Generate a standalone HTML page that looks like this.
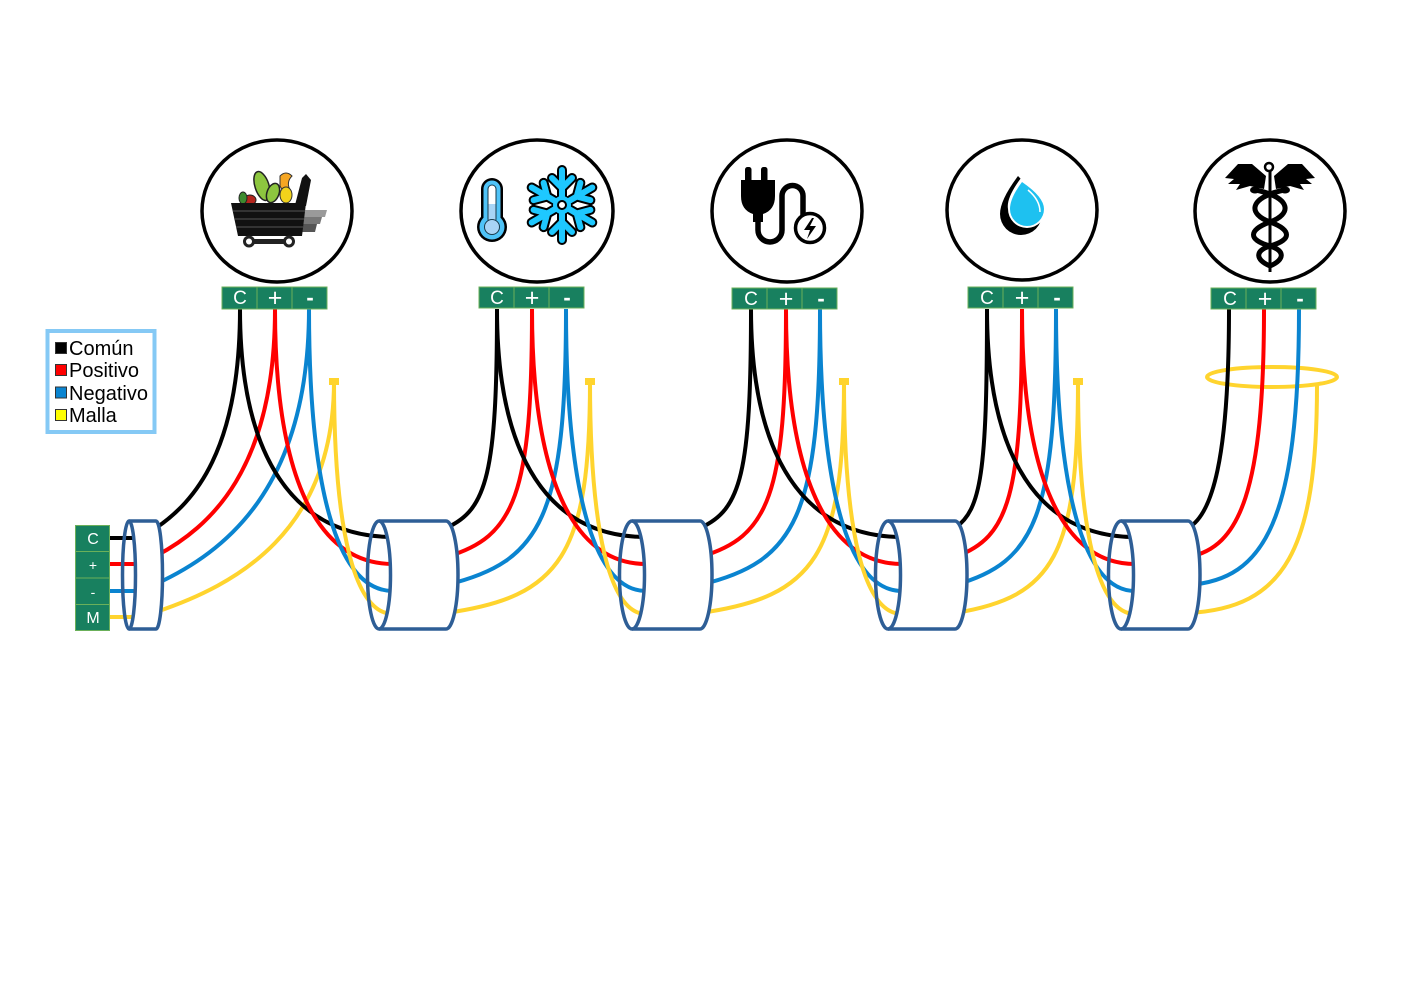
<!DOCTYPE html>
<html><head><meta charset="utf-8"><style>
html,body{margin:0;padding:0;background:#fff;}
svg{display:block;}
text{font-family:"Liberation Sans",Arial,sans-serif;}
</style></head><body>
<svg width="1403" height="992" viewBox="0 0 1403 992" xmlns="http://www.w3.org/2000/svg">
<rect width="1403" height="992" fill="#fff"/>

<!-- Device circles -->
<g fill="#fff" stroke="#000" stroke-width="3.5">
<ellipse cx="277" cy="211" rx="75" ry="71"/>
<ellipse cx="537" cy="211" rx="76" ry="71"/>
<ellipse cx="787" cy="211" rx="75" ry="71"/>
<ellipse cx="1022" cy="210" rx="75" ry="70"/>
<ellipse cx="1270" cy="211" rx="75" ry="71"/>
</g>

<!-- Icon 1: cart with vegetables -->
<g>
<ellipse cx="250" cy="200" rx="6" ry="5" fill="#b3261e" stroke="#222" stroke-width="1"/>
<ellipse cx="243" cy="198" rx="4" ry="6" fill="#3d8b2f" stroke="#222" stroke-width="1"/>
<ellipse cx="262" cy="186" rx="7" ry="15" transform="rotate(-18 262 186)" fill="#8dc63f" stroke="#222" stroke-width="1.5"/>
<ellipse cx="273" cy="193" rx="6" ry="10" transform="rotate(20 273 193)" fill="#8dc63f" stroke="#222" stroke-width="1.5"/>
<path d="M280,176 Q286,170 292,176 Q286,182 290,190 Q284,194 280,186 Z" fill="#f5a623" stroke="#333" stroke-width="1"/>
<ellipse cx="286" cy="195" rx="6" ry="8" fill="#f2d31b" stroke="#333" stroke-width="1"/>
<path d="M295,205 L302,178 L306,174 L311,180 L306,206 Z" fill="#111"/>
<polygon points="303,210 327,210 325,217 303,217" fill="#9a9a9a"/>
<polygon points="302,217 322,217 320,224 302,224" fill="#777"/>
<polygon points="301,224 317,224 315,232 301,232" fill="#555"/>
<polygon points="231,203 306,203 302,236 238,236" fill="#111"/>
<line x1="233" y1="211" x2="305" y2="211" stroke="#555" stroke-width="1"/>
<line x1="235" y1="219" x2="304" y2="219" stroke="#555" stroke-width="1"/>
<line x1="236" y1="227" x2="303" y2="227" stroke="#555" stroke-width="1"/>
<rect x="249" y="239" width="41" height="5" fill="#222"/>
<circle cx="249" cy="241.5" r="4.5" fill="#fff" stroke="#222" stroke-width="3"/>
<circle cx="289" cy="241.5" r="4.5" fill="#fff" stroke="#222" stroke-width="3"/>
</g>

<!-- Icon 2: thermometer + snowflake -->
<g>
<rect x="481" y="178" width="22" height="52" rx="11" fill="#000"/>
<circle cx="492" cy="227" r="15" fill="#000"/>
<rect x="483.5" y="180.5" width="17" height="48" rx="8.5" fill="#4fc3f7"/>
<circle cx="492" cy="227" r="12.5" fill="#4fc3f7"/>
<rect x="488" y="185" width="8" height="38" rx="4" fill="#fff" stroke="#1a3a4a" stroke-width="1"/>
<rect x="488.5" y="204" width="7" height="20" fill="#a8d4f5"/>
<circle cx="492" cy="227" r="7.5" fill="#a8d4f5" stroke="#1a3a4a" stroke-width="1"/>
</g>
<g id="flake">
<g stroke="#000" stroke-width="10" stroke-linecap="round" fill="none">
<g id="armb"><line x1="562" y1="205" x2="562" y2="170"/><polyline points="552,178 562,188 572,178"/></g>
<use href="#armb" transform="rotate(60 562 205)"/>
<use href="#armb" transform="rotate(120 562 205)"/>
<use href="#armb" transform="rotate(180 562 205)"/>
<use href="#armb" transform="rotate(240 562 205)"/>
<use href="#armb" transform="rotate(300 562 205)"/>
</g>
<g stroke="#1ec8ff" stroke-width="6" stroke-linecap="round" fill="none">
<g id="armc"><line x1="562" y1="205" x2="562" y2="170"/><polyline points="552,178 562,188 572,178"/></g>
<use href="#armc" transform="rotate(60 562 205)"/>
<use href="#armc" transform="rotate(120 562 205)"/>
<use href="#armc" transform="rotate(180 562 205)"/>
<use href="#armc" transform="rotate(240 562 205)"/>
<use href="#armc" transform="rotate(300 562 205)"/>
</g>
<circle cx="562" cy="205" r="9" fill="#1ec8ff"/>
<circle cx="562" cy="205" r="4" fill="#fff" stroke="#000" stroke-width="2"/>
</g>

<!-- Icon 3: plug -->
<g>
<rect x="745" y="167" width="6.5" height="16" rx="2.5" fill="#000"/>
<rect x="761" y="167" width="6.5" height="16" rx="2.5" fill="#000"/>
<path d="M741,180 L775,180 L775,196 Q775,210 763,214 L763,222 L753,222 L753,214 Q741,210 741,196 Z" fill="#000"/>
<path d="M758,218 L758,230 A12,12 0 0 0 782,230 L782,196 A10.5,10.5 0 0 1 803,196 L803,215" fill="none" stroke="#000" stroke-width="5.5"/>
<circle cx="810" cy="228" r="14.5" fill="#fff" stroke="#000" stroke-width="3.5"/>
<polygon points="812,218 804,230 810,230 807,239 816,226 810,226 814,218" fill="#000"/>
</g>

<!-- Icon 4: water drop -->
<g>
<path d="M1018,176 Q1000,200 1000,214 A21,21 0 0 0 1042,214 Q1042,200 1018,176 Z" fill="#000"/>
<path d="M1021,178 Q1006,198 1008,209 A19,19 0 0 0 1046,209 Q1046,196 1021,178 Z" fill="#fff"/>
<path d="M1022,182 Q1010,198 1010,209 A17,17 0 0 0 1044,209 Q1044,197 1022,182 Z" fill="#1ec1f0"/>
<path d="M1028,190 Q1040,200 1040,212" fill="none" stroke="#fff" stroke-width="1.5"/>
</g>

<!-- Icon 5: caduceus -->
<g>
<line x1="1270" y1="170" x2="1270" y2="272" stroke="#000" stroke-width="3"/>
<circle cx="1269" cy="167" r="4" fill="#fff" stroke="#000" stroke-width="2.5"/>
<polygon id="wingL" points="1266,176 1252,164 1238,164 1225,178 1234,179 1228,184 1240,184 1236,190 1250,186 1264,189" fill="#000"/>
<use href="#wingL" transform="translate(2540 0) scale(-1 1)"/>
<path d="M1256,190 C1292,198 1292,214 1270,222 C1248,230 1248,240 1270,246 C1286,251 1284,260 1270,266" fill="none" stroke="#000" stroke-width="5"/>
<path d="M1284,190 C1248,198 1248,214 1270,222 C1292,230 1292,240 1270,246 C1254,251 1256,260 1270,266" fill="none" stroke="#000" stroke-width="5"/>
<ellipse cx="1255" cy="190" rx="5" ry="3.5" fill="#000"/>
<ellipse cx="1285" cy="190" rx="5" ry="3.5" fill="#000"/>
</g>

<!-- Yellow ring of device 5 -->
<ellipse cx="1272" cy="377" rx="65" ry="10" fill="none" stroke="#ffd42e" stroke-width="4"/>

<!-- Wires -->
<g fill="none" stroke-width="4">
<line x1="110" y1="538" x2="140" y2="538" stroke="#000"/>
<line x1="110" y1="564" x2="140" y2="564" stroke="#ff0000"/>
<line x1="110" y1="591" x2="140" y2="591" stroke="#0a84d0"/>
<line x1="110" y1="617" x2="140" y2="617" stroke="#ffd42e"/>

<path d="M240,309 C240,451 194,502 156,528" stroke="#000"/>
<path d="M275,309 C275,470 210,527 156,556" stroke="#ff0000"/>
<path d="M309,309 C309,488 225,552 156,584" stroke="#0a84d0"/>
<path d="M334,381 C334,532 236,585 156,612" stroke="#ffd42e"/>
<path d="M240,309 C240,457 294,537 393,537" stroke="#000"/>
<path d="M275,309 C275,475 316,564 393,564" stroke="#ff0000"/>
<path d="M309,309 C309,492 338,591 393,591" stroke="#0a84d0"/>
<path d="M334,381 C334,532 355,614 393,614" stroke="#ffd42e"/>

<path d="M497,309 C497,473 487,510 446,528" stroke="#000"/>
<path d="M532,309 C532,495 515,537 446,557" stroke="#ff0000"/>
<path d="M566,309 C566,516 542,562 446,585" stroke="#0a84d0"/>
<path d="M590,381 C590,555 561,597 446,613" stroke="#ffd42e"/>
<path d="M497,309 C497,457 549,537 646,537" stroke="#000"/>
<path d="M532,309 C532,475 572,564 646,564" stroke="#ff0000"/>
<path d="M566,309 C566,492 594,591 646,591" stroke="#0a84d0"/>
<path d="M590,381 C590,532 610,614 646,614" stroke="#ffd42e"/>

<path d="M751,309 C751,473 741,510 700,528" stroke="#000"/>
<path d="M786,309 C786,495 769,537 700,557" stroke="#ff0000"/>
<path d="M820,309 C820,516 796,562 700,585" stroke="#0a84d0"/>
<path d="M844,381 C844,555 815,597 700,613" stroke="#ffd42e"/>
<path d="M751,309 C751,457 804,537 902,537" stroke="#000"/>
<path d="M786,309 C786,475 827,564 902,564" stroke="#ff0000"/>
<path d="M820,309 C820,492 849,591 902,591" stroke="#0a84d0"/>
<path d="M844,381 C844,532 864,614 902,614" stroke="#ffd42e"/>

<path d="M987,309 C987,473 981,510 955,528" stroke="#000"/>
<path d="M1022,309 C1022,495 1010,537 955,557" stroke="#ff0000"/>
<path d="M1056,309 C1056,516 1036,562 955,585" stroke="#0a84d0"/>
<path d="M1078,381 C1078,555 1054,597 955,613" stroke="#ffd42e"/>
<path d="M987,309 C987,457 1039,537 1135,537" stroke="#000"/>
<path d="M1022,309 C1022,475 1062,564 1135,564" stroke="#ff0000"/>
<path d="M1056,309 C1056,492 1084,591 1135,591" stroke="#0a84d0"/>
<path d="M1078,381 C1078,532 1098,614 1135,614" stroke="#ffd42e"/>

<path d="M1229,309 C1229,460 1212,515 1188,528" stroke="#000"/>
<path d="M1264,309 C1264,490 1240,548 1188,557" stroke="#ff0000"/>
<path d="M1299,309 C1299,520 1265,580 1188,585" stroke="#0a84d0"/>
<path d="M1317,385 C1317,550 1285,608 1188,613" stroke="#ffd42e"/>
</g>

<!-- Yellow caps -->
<g fill="#ffd42e">
<rect x="329" y="378" width="10" height="7"/>
<rect x="585" y="378" width="10" height="7"/>
<rect x="839" y="378" width="10" height="7"/>
<rect x="1073" y="378" width="10" height="7"/>
</g>

<!-- Cylinders -->
<g stroke="#2e5e96" stroke-width="3.5">
<path d="M129,521 L156,521 A6.5,54 0 0 1 156,629 L129,629 A6.5,54 0 0 0 129,521 Z" fill="#fff" stroke="none"/>
<path d="M129,521 L156,521 A6.5,54 0 0 1 156,629 L129,629" fill="none"/>
<ellipse cx="129" cy="575" rx="6.5" ry="54" fill="none"/>
<path d="M379,521 L446,521 A12,54 0 0 1 446,629 L379,629 A12,54 0 0 0 379,521 Z" fill="#fff" stroke="none"/>
<path d="M379,521 L446,521 A12,54 0 0 1 446,629 L379,629" fill="none"/>
<ellipse cx="379" cy="575" rx="11.5" ry="54" fill="none"/>
<path d="M632,521 L700,521 A12,54 0 0 1 700,629 L632,629 A12,54 0 0 0 632,521 Z" fill="#fff" stroke="none"/>
<path d="M632,521 L700,521 A12,54 0 0 1 700,629 L632,629" fill="none"/>
<ellipse cx="632" cy="575" rx="12.5" ry="54" fill="none"/>
<path d="M888,521 L955,521 A12,54 0 0 1 955,629 L888,629 A12,54 0 0 0 888,521 Z" fill="#fff" stroke="none"/>
<path d="M888,521 L955,521 A12,54 0 0 1 955,629 L888,629" fill="none"/>
<ellipse cx="888" cy="575" rx="12.5" ry="54" fill="none"/>
<path d="M1121,521 L1188,521 A12,54 0 0 1 1188,629 L1121,629 A12,54 0 0 0 1121,521 Z" fill="#fff" stroke="none"/>
<path d="M1121,521 L1188,521 A12,54 0 0 1 1188,629 L1121,629" fill="none"/>
<ellipse cx="1121" cy="575" rx="12.5" ry="54" fill="none"/>
</g>

<!-- Top terminal blocks -->
<g fill="#18805f" stroke="#6bb05a" stroke-width="1">
<rect x="222" y="287" width="35" height="22"/><rect x="257" y="287" width="35" height="22"/><rect x="292" y="287" width="35" height="22"/>
<rect x="479" y="287" width="35" height="21"/><rect x="514" y="287" width="35" height="21"/><rect x="549" y="287" width="35" height="21"/>
<rect x="732" y="288" width="35" height="21"/><rect x="767" y="288" width="35" height="21"/><rect x="802" y="288" width="35" height="21"/>
<rect x="968" y="287" width="35" height="21"/><rect x="1003" y="287" width="35" height="21"/><rect x="1038" y="287" width="35" height="21"/>
<rect x="1211" y="288" width="35" height="21"/><rect x="1246" y="288" width="35" height="21"/><rect x="1281" y="288" width="35" height="21"/>
</g>
<g fill="#ffffff" text-anchor="middle">
<text x="240" y="304" font-size="19">C</text><text x="275" y="306" font-size="25">+</text><text x="310" y="305" font-size="22" font-weight="bold">-</text>
<text x="497" y="304" font-size="19">C</text><text x="532" y="306" font-size="25">+</text><text x="567" y="305" font-size="22" font-weight="bold">-</text>
<text x="751" y="305" font-size="19">C</text><text x="786" y="307" font-size="25">+</text><text x="821" y="306" font-size="22" font-weight="bold">-</text>
<text x="987" y="304" font-size="19">C</text><text x="1022" y="306" font-size="25">+</text><text x="1057" y="305" font-size="22" font-weight="bold">-</text>
<text x="1230" y="305" font-size="19">C</text><text x="1265" y="307" font-size="25">+</text><text x="1300" y="306" font-size="22" font-weight="bold">-</text>
</g>

<!-- Left vertical terminal block -->
<g fill="#18805f" stroke="#6bb05a" stroke-width="1">
<rect x="75.5" y="525.5" width="34" height="26"/>
<rect x="75.5" y="551.5" width="34" height="26.5"/>
<rect x="75.5" y="578" width="34" height="26.5"/>
<rect x="75.5" y="604.5" width="34" height="26"/>
</g>
<g fill="#ffffff" text-anchor="middle" font-size="16">
<text x="93" y="544">C</text>
<text x="93" y="570" font-size="14">+</text>
<text x="93" y="597" font-size="14">-</text>
<text x="93" y="623">M</text>
</g>

<!-- Legend -->
<rect x="47.5" y="331" width="107" height="101" fill="#fff" stroke="#85c9f5" stroke-width="4"/>
<g stroke="#333" stroke-width="1">
<rect x="55.5" y="342.5" width="11" height="11" fill="#000"/>
<rect x="55.5" y="364.5" width="11" height="11" fill="#ff0000"/>
<rect x="55.5" y="387" width="11" height="11" fill="#0a84d0"/>
<rect x="55.5" y="409.5" width="11" height="11" fill="#ffff00"/>
</g>
<g fill="#000" font-size="20">
<text x="69" y="355">Común</text>
<text x="69" y="377">Positivo</text>
<text x="69" y="400">Negativo</text>
<text x="69" y="422">Malla</text>
</g>
</svg>
</body></html>
